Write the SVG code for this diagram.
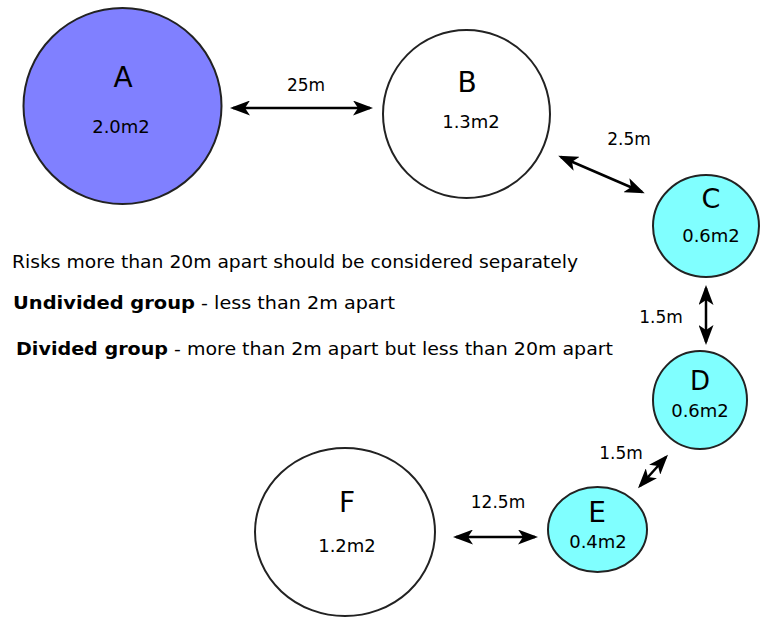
<svg xmlns="http://www.w3.org/2000/svg" width="760" height="617" viewBox="0 0 760 617">
<style>
.node{stroke:#222;stroke-width:2}
.white{fill:#fff}
.blue{fill:#8080ff}
.cyan{fill:#80ffff}
.big{font-family:"DejaVu Sans",Verdana,sans-serif;font-size:28px;fill:#000;text-anchor:middle}
.area{font-family:"DejaVu Sans",Verdana,sans-serif;font-size:18px;fill:#000;text-anchor:middle}
.dist{font-family:"DejaVu Sans",Verdana,sans-serif;font-size:17px;fill:#000;text-anchor:middle}
.note{font-family:"DejaVu Sans",Verdana,sans-serif;font-size:18px;fill:#000}
.conn{stroke:#000;stroke-width:2.5;fill:none;marker-start:url(#ah);marker-end:url(#ah)}
</style>
<defs>
<marker id="ah" viewBox="0 0 20 15" refX="17" refY="7.5" markerWidth="20" markerHeight="15" markerUnits="userSpaceOnUse" orient="auto-start-reverse">
<path d="M0,0 L20,7.5 L0,15 L5,7.5 Z" fill="#000"/>
</marker>
</defs>
<rect width="760" height="617" fill="#fff"/>
<g id="connectors">
<line class="conn" x1="233" y1="108" x2="370" y2="108"/>
<line class="conn" x1="561" y1="157" x2="642" y2="192"/>
<line class="conn" x1="706" y1="288" x2="706" y2="342"/>
<line class="conn" x1="640" y1="486" x2="666" y2="457"/>
<line class="conn" x1="456" y1="537" x2="535" y2="537"/>
</g>
<g id="labels">
<text class="dist" x="306" y="91">25m</text>
<text class="dist" x="629" y="145">2.5m</text>
<text class="dist" x="661" y="323">1.5m</text>
<text class="dist" x="621" y="459">1.5m</text>
<text class="dist" x="498" y="508">12.5m</text>
</g>
<g id="node-A">
<ellipse class="node blue" cx="122.5" cy="106" rx="99" ry="98"/>
<text class="big" x="123" y="87">A</text>
<text class="area" x="121" y="133">2.0m2</text>
</g>
<g id="node-B">
<ellipse class="node white" cx="466.5" cy="114" rx="83.5" ry="84"/>
<text class="big" x="467" y="92">B</text>
<text class="area" x="471" y="128">1.3m2</text>
</g>
<g id="node-C">
<ellipse class="node cyan" cx="706" cy="226" rx="53" ry="51"/>
<text class="big" x="711" y="208" style="font-size:27px">C</text>
<text class="area" x="711" y="242">0.6m2</text>
</g>
<g id="node-D">
<ellipse class="node cyan" cx="700" cy="400" rx="47" ry="49"/>
<text class="big" x="700" y="390" style="font-size:26px">D</text>
<text class="area" x="700" y="417">0.6m2</text>
</g>
<g id="node-E">
<ellipse class="node cyan" cx="597.5" cy="529.5" rx="49.5" ry="42.5"/>
<text class="big" x="597" y="522">E</text>
<text class="area" x="598" y="548">0.4m2</text>
</g>
<g id="node-F">
<ellipse class="node white" cx="345" cy="532" rx="90" ry="84"/>
<text class="big" x="347" y="512">F</text>
<text class="area" x="347" y="552">1.2m2</text>
</g>
<g id="notes">
<text class="note" x="12" y="268" textLength="566" lengthAdjust="spacingAndGlyphs">Risks more than 20m apart should be considered separately</text>
<text class="note" x="13" y="309"><tspan font-weight="bold" textLength="182" lengthAdjust="spacingAndGlyphs">Undivided group</tspan><tspan textLength="200" lengthAdjust="spacingAndGlyphs"> - less than 2m apart</tspan></text>
<text class="note" x="16" y="355"><tspan font-weight="bold" textLength="152" lengthAdjust="spacingAndGlyphs">Divided group</tspan><tspan textLength="445" lengthAdjust="spacingAndGlyphs"> - more than 2m apart but less than 20m apart</tspan></text>
</g>
</svg>
